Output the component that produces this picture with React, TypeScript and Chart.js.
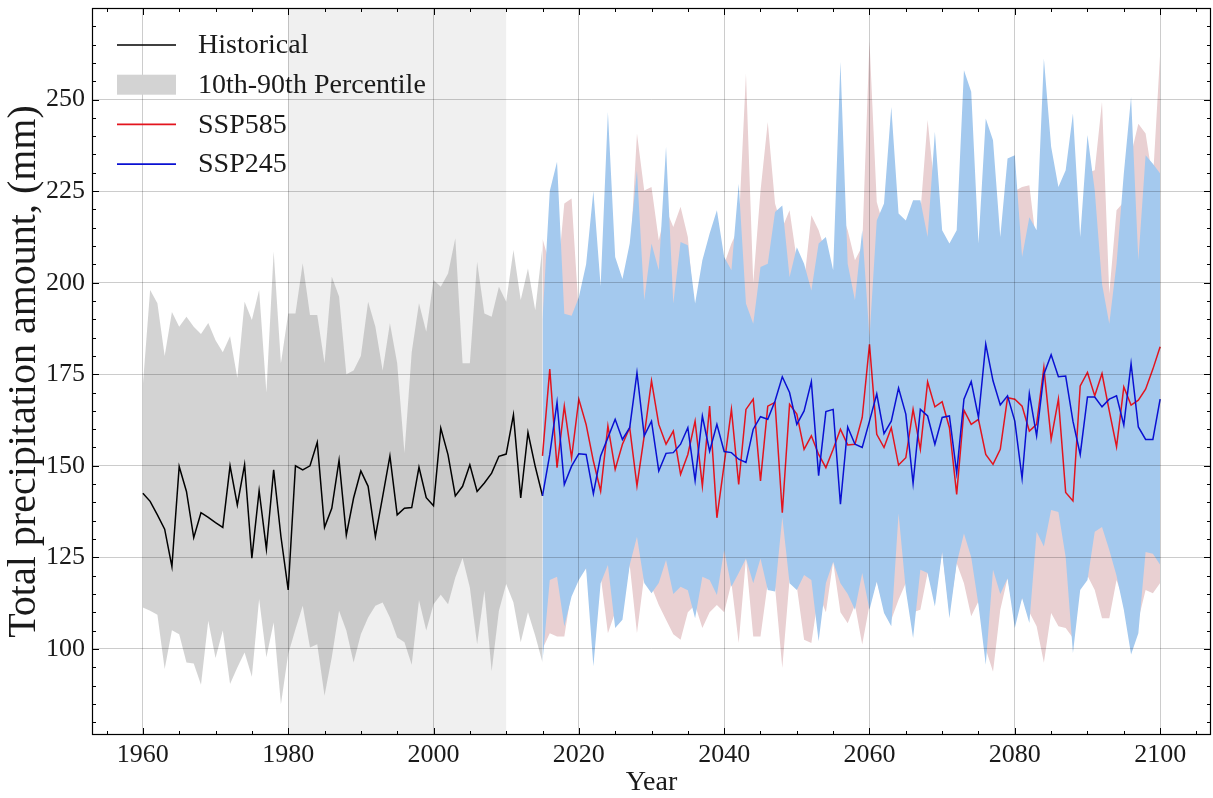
import React, { useEffect, useRef } from "react";
import { Chart, registerables } from "chart.js";

Chart.register(...registerables);

// ---------------- data ----------------
const HIST_START = 1960;
const FUT_START = 2015;

const histMean = [
  142.5, 140.3, 136.6, 132.7, 122.5, 149.8, 143.0, 130.4, 137.2, 135.9,
  134.5, 133.2, 150.0, 139.3, 150.3, 124.8, 143.2, 127.3, 148.9, 130.7,
  116.1, 150.0, 148.9, 150.0, 156.4, 133.2, 138.4, 151.5, 131.1, 141.2,
  148.6, 144.4, 130.7, 141.6, 152.7, 136.6, 138.4, 138.6, 149.6, 141.3,
  139.1, 160.3, 153.0, 141.8, 144.4, 150.3, 143.0, 145.3, 148.0, 152.6,
  153.2, 163.9, 141.2, 159.1, 149.8, 141.8,
];
const histP90 = [
  172, 198, 194.4, 180, 192, 188, 190.7, 188, 186, 189,
  184.3, 181, 185.4, 174, 194.8, 189.8, 198, 170, 208.5, 178,
  191.6, 191.6, 205.3, 191.2, 191.2, 178, 201.6, 196.2, 175, 176,
  180, 194.8, 188, 176, 188.9, 178, 153.5, 181, 194.4, 186.6,
  200.7, 198.9, 202.5, 212.1, 178, 178, 205.7, 191.6, 190.7, 198.9,
  194.8, 208.9, 195.3, 203.9, 192.5, 210,
];
const histP10 = [
  111.3, 110.4, 109.3, 94.5, 105.1, 104.0, 96.3, 96.0, 90.2, 107.7,
  97.5, 105.0, 90.4, 94.9, 99.0, 92.4, 113.6, 97.7, 107.2, 84.9,
  98.6, 105.4, 111.8, 100.4, 101.3, 87.2, 97.7, 110.4, 105.0, 96.3,
  104.0, 108.6, 111.8, 112.7, 108.6, 103.1, 101.8, 95.7, 113.3, 105.0,
  112.2, 114.8, 112.2, 119.5, 124.8, 116.8, 101.3, 115.9, 93.9, 110.4,
  117.7, 112.7, 101.8, 110.0, 103.6, 96.3,
];

const ssp585Mean = [
  152.7, 176.4, 149.5, 166.3, 152.2, 168.2, 161.3, 151.3, 143.1, 160.9,
  149.0, 155.9, 160.4, 144.5, 158.2, 173.2, 161.3, 155.9, 159.5, 147.7,
  153.1, 162.2, 144.5, 166.3, 135.8, 150.4, 165.4, 144.9, 165.4, 168.2,
  145.9, 166.3, 167.3, 137.2, 166.8, 164.1, 154.5, 158.2, 153.1, 149.5,
  154.5, 160.0, 155.7, 155.9, 163.2, 183.2, 158.6, 155.0, 160.4, 150.2,
  152.2, 165.4, 154.5, 172.9, 166.1, 167.5, 160.4, 142.2, 165.2, 161.3,
  162.7, 153.1, 150.4, 154.5, 168.6, 168.2, 166.3, 159.5, 161.3, 176.8,
  157.2, 168.2, 142.7, 140.4, 171.8, 175.5, 169.1, 175.2, 165.0, 155.2,
  171.5, 166.6, 167.9, 170.9, 176.4, 182.5,
];
const ssp585P90 = [
  212, 205, 200, 221.6, 223, 191.5, 200, 210, 195, 225,
  203, 198, 205, 240.7, 225.2, 226.1, 211.6, 220, 215.2, 220.7,
  212.5, 190, 204, 211, 215.5, 205, 210.7, 215, 257.1, 200,
  225, 243.9, 221.6, 215, 219.8, 206.1, 200, 218.4, 214.3, 208,
  200, 220, 214.3, 206.1, 210, 266, 222, 215, 230, 210,
  212, 218, 219, 244.4, 225, 210, 205, 210, 240, 235,
  205, 230, 225, 209, 225, 225, 226.1, 226.6, 210, 235,
  230, 222, 225, 235, 208, 230, 230.7, 249.4, 197, 219.8,
  222, 235, 243.4, 240.7, 228, 262.6,
];
const ssp585P10 = [
  100, 104.3, 103.4, 103.4, 116, 120, 122, 110, 120, 104.3,
  110, 112, 122.9, 104.3, 120, 117, 112, 108, 104, 102.5,
  110, 112, 105.7, 110, 112, 110, 118, 101.6, 124.7, 103.4,
  103.4, 118, 117, 94.8, 119, 117, 102.5, 101.6, 115, 110,
  123.8, 110, 107, 112, 101.2, 112, 118.4, 111, 108, 113.4,
  118, 110, 110.7, 120.7, 114, 126.5, 110, 123.4, 117.9, 108.9,
  113, 100, 93.8, 110.7, 119.3, 108, 113.9, 110, 106.2, 96.2,
  109.8, 106.2, 105.7, 103, 118, 120, 116.1, 108.4, 108.4, 118.8,
  113, 105, 108, 116.1, 115.2, 118,
];

const ssp245Mean = [
  141.8, 153.1, 167.3, 144.9, 149.9, 153.3, 153.1, 142.4, 152.7, 157.7,
  162.7, 157.2, 160.4, 175.4, 158.2, 162.2, 148.6, 153.4, 153.6, 155.9,
  160.4, 146.0, 163.6, 154.0, 161.3, 153.9, 153.6, 151.8, 150.9, 160.0,
  163.4, 162.7, 167.7, 174.3, 170.0, 161.3, 165.0, 173.0, 147.3, 164.8,
  165.4, 139.5, 160.6, 155.9, 155.0, 162.2, 169.6, 158.8, 162.2, 171.2,
  164.1, 145.2, 165.4, 163.6, 155.9, 163.2, 163.6, 148.1, 168.2, 173.0,
  163.2, 183.2, 173.2, 166.6, 169.1, 162.2, 146.6, 169.7, 158.2, 175.0,
  180.3, 174.3, 174.5, 162.2, 153.1, 168.8, 168.8, 166.1, 168.2, 169.1,
  161.1, 177.9, 160.6, 157.2, 157.2, 168.2,
];
const ssp245P90 = [
  190, 225, 233, 191.5, 191, 196, 205, 225, 199, 246.6,
  207, 201, 210.7, 230.7, 195.2, 210.7, 203.4, 237.1, 194.3, 211.1,
  210.2, 194.3, 206.1, 213.4, 219.8, 207, 203.4, 227, 194.3, 188.8,
  204.3, 205.2, 219.3, 221.1, 201.5, 209.7, 205.2, 197.9, 210.7, 212.5,
  203.4, 260.3, 205.2, 195.2, 214.3, 185, 217, 221.6, 248, 218.9,
  217, 222.5, 222.5, 212.5, 241.2, 214.3, 210.7, 214.3, 258, 252.1,
  210.7, 244.8, 238.9, 212.5, 233.9, 234.8, 207, 217.9, 214.3, 261.2,
  237.1, 226.1, 230.7, 246.2, 212.5, 240.3, 225.2, 199.7, 188.8, 205.2,
  229.8, 250.7, 206.1, 234.8, 232.5, 229.8,
];
const ssp245P10 = [
  96.6, 118.8, 119.7, 106.2, 114.3, 118.8, 122, 95.3, 117.9, 122.9,
  105.7, 108, 122.9, 130.6, 118, 115.2, 118, 124.3, 115, 117,
  116, 108.4, 119.7, 118.8, 114.7, 127, 117, 120.7, 124.7, 117.9,
  124.7, 116.1, 115.7, 136, 117.9, 116.1, 120.2, 118.8, 102.1, 118,
  123.8, 117.9, 115, 110.7, 120.7, 110.7, 118.4, 109.8, 106.2, 137,
  116, 103, 121.6, 120.7, 111.6, 126.5, 108.4, 123.4, 131.5, 125,
  112, 95.7, 121.6, 115, 119.3, 105.7, 113.9, 107.1, 132, 128,
  137.9, 137.4, 125, 98.9, 116.1, 118.8, 132, 133.3, 127, 120,
  110.7, 98.5, 104.3, 126.5, 126, 123,
];

const X_TICKS = [1960, 1980, 2000, 2020, 2040, 2060, 2080, 2100];
const Y_TICKS = [100, 125, 150, 175, 200, 225, 250];
const SHADE_START = 1980;
const SHADE_END = 2010;
const X_LABEL = "Year";
const Y_LABEL = "Total precipitation amount, (mm)";
const LBL_HIST = "Historical";
const LBL_BAND = "10th-90th Percentile";
const LBL_585 = "SSP585";
const LBL_245 = "SSP245";

// ---------------- styling ----------------
const FONT = "'Liberation Serif', 'Times New Roman', serif";
const FONT_SIZE = 26;
const LABEL_SIZE = 28;
const YLABEL_SIZE = 40;
const TEXT_COLOR = "#1a1a1a";
const GRAY_BAND = "rgba(150,150,150,0.42)";
const GRAY_LEGEND = "#d3d3d3";
const PINK_BAND = "#e9d0d2";
const BLUE_BAND = "#a4c9ee";
const RED_LINE = "#e3141e";
const BLUE_LINE = "#0a10d2";
const GRID = "rgba(0,0,0,0.2)";

const toPts = (start: number, vals: number[]) =>
  vals.map((v, i) => ({ x: start + i, y: v }));

const decorPlugin = {
  id: "decor",
  beforeDatasetsDraw(chart: any) {
    const { ctx, chartArea: a, scales } = chart;
    const x0 = scales.x.getPixelForValue(SHADE_START);
    const x1 = scales.x.getPixelForValue(SHADE_END);
    ctx.save();
    ctx.fillStyle = "#f0f0f0";
    ctx.fillRect(x0, a.top, x1 - x0, a.bottom - a.top);
    ctx.restore();
  },
  afterDraw(chart: any) {
    const { ctx, chartArea: a, scales } = chart;
    const xs = scales.x;
    const ys = scales.y;
    ctx.save();
    ctx.strokeStyle = "#000";
    ctx.lineWidth = 1.2;
    ctx.strokeRect(a.left + 0.5, a.top + 0.5, a.right - a.left - 1, a.bottom - a.top - 1);
    ctx.lineWidth = 1;
    ctx.beginPath();
    for (let v = 1955; v <= xs.max; v += 5) {
      if (v < xs.min) continue;
      const px = Math.round(xs.getPixelForValue(v)) + 0.5;
      const len = X_TICKS.includes(v) ? 7 : 4;
      ctx.moveTo(px, a.bottom);
      ctx.lineTo(px, a.bottom - len);
      ctx.moveTo(px, a.top);
      ctx.lineTo(px, a.top + len);
    }
    for (let v = 80; v <= ys.max; v += 5) {
      const py = Math.round(ys.getPixelForValue(v)) + 0.5;
      const len = Y_TICKS.includes(v) ? 7 : 4;
      ctx.moveTo(a.left, py);
      ctx.lineTo(a.left + len, py);
      ctx.moveTo(a.right, py);
      ctx.lineTo(a.right - len, py);
    }
    ctx.stroke();

    // legend
    const items = [
      { label: LBL_HIST, kind: "line", color: "#000" },
      { label: LBL_BAND, kind: "box", color: GRAY_LEGEND },
      { label: LBL_585, kind: "line", color: RED_LINE },
      { label: LBL_245, kind: "line", color: BLUE_LINE },
    ];
    ctx.font = `${LABEL_SIZE}px ${FONT}`;
    ctx.textBaseline = "middle";
    ctx.textAlign = "left";
    items.forEach((it, i) => {
      const cy = 45 + i * 39.7;
      if (it.kind === "line") {
        ctx.strokeStyle = it.color;
        ctx.lineWidth = 1.6;
        ctx.beginPath();
        ctx.moveTo(117, cy);
        ctx.lineTo(176, cy);
        ctx.stroke();
      } else {
        ctx.fillStyle = it.color;
        ctx.fillRect(117, cy - 10, 59, 20);
      }
      ctx.fillStyle = TEXT_COLOR;
      ctx.fillText(it.label, 198, cy + 1);
    });
    ctx.restore();
  },
};

export default function App() {
  const canvasRef = useRef<HTMLCanvasElement | null>(null);

  useEffect(() => {
    if (!canvasRef.current) return;
    const band = { borderColor: "rgba(0,0,0,0)", borderWidth: 0, pointRadius: 0 };
    const chart = new Chart(canvasRef.current, {
      type: "line",
      data: {
        datasets: [
          { label: LBL_HIST, data: toPts(HIST_START, histMean), borderColor: "#000", borderWidth: 1.5, pointRadius: 0, fill: false, order: 2 },
          { label: LBL_BAND, data: toPts(HIST_START, histP90), ...band, backgroundColor: GRAY_BAND, fill: 2, order: 9 },
          { label: "hist p10", data: toPts(HIST_START, histP10), ...band, fill: false, order: 10 },
          { label: LBL_585, data: toPts(FUT_START, ssp585Mean), borderColor: RED_LINE, borderWidth: 1.5, pointRadius: 0, fill: false, order: 1 },
          { label: "585 p90", data: toPts(FUT_START, ssp585P90), ...band, backgroundColor: PINK_BAND, fill: 5, order: 7 },
          { label: "585 p10", data: toPts(FUT_START, ssp585P10), ...band, fill: false, order: 8 },
          { label: LBL_245, data: toPts(FUT_START, ssp245Mean), borderColor: BLUE_LINE, borderWidth: 1.5, pointRadius: 0, fill: false, order: 0 },
          { label: "245 p90", data: toPts(FUT_START, ssp245P90), ...band, backgroundColor: BLUE_BAND, fill: 8, order: 5 },
          { label: "245 p10", data: toPts(FUT_START, ssp245P10), ...band, fill: false, order: 6 },
        ] as any,
      },
      options: {
        animation: false,
        responsive: true,
        maintainAspectRatio: false,
        layout: { padding: { top: 8, right: 2, left: 0, bottom: 0 } },
        elements: { line: { tension: 0 } },
        plugins: { legend: { display: false }, tooltip: { enabled: false } },
        scales: {
          x: {
            type: "linear",
            min: 1953,
            max: 2107,
            afterFit: (s: any) => { s.height = 63; s.paddingLeft = 0; s.paddingRight = 0; },
            afterBuildTicks: (s: any) => { s.ticks = X_TICKS.map((v) => ({ value: v })); },
            grid: { color: GRID, lineWidth: 1, drawTicks: false, z: 1 },
            border: { display: false },
            ticks: {
              padding: 5,
              color: TEXT_COLOR,
              font: { family: FONT, size: FONT_SIZE },
              callback: (v: any) => String(v),
              maxRotation: 0,
              autoSkip: false,
            },
            title: {
              display: true,
              text: X_LABEL,
              color: TEXT_COLOR,
              font: { family: FONT, size: LABEL_SIZE },
              padding: { top: 0, bottom: -1 },
            },
          },
          y: {
            type: "linear",
            min: 76.5,
            max: 275,
            afterFit: (s: any) => { s.width = 92; s.paddingTop = 0; s.paddingBottom = 0; },
            afterBuildTicks: (s: any) => { s.ticks = Y_TICKS.map((v) => ({ value: v })); },
            grid: { color: GRID, lineWidth: 1, drawTicks: false, z: 1 },
            border: { display: false },
            ticks: {
              padding: 7,
              color: TEXT_COLOR,
              font: { family: FONT, size: FONT_SIZE },
              callback: (v: any) => String(v),
            },
            title: {
              display: true,
              text: Y_LABEL,
              color: TEXT_COLOR,
              font: { family: FONT, size: YLABEL_SIZE, lineHeight: 1.0 },
              padding: { top: 4, bottom: 0 },
            },
          },
        },
      } as any,
      plugins: [decorPlugin],
    });
    return () => chart.destroy();
  }, []);

  return (
    <div style={{ position: "absolute", left: 0, top: 0, width: 1213, height: 798, background: "#fff" }}>
      <canvas ref={canvasRef} />
    </div>
  );
}
